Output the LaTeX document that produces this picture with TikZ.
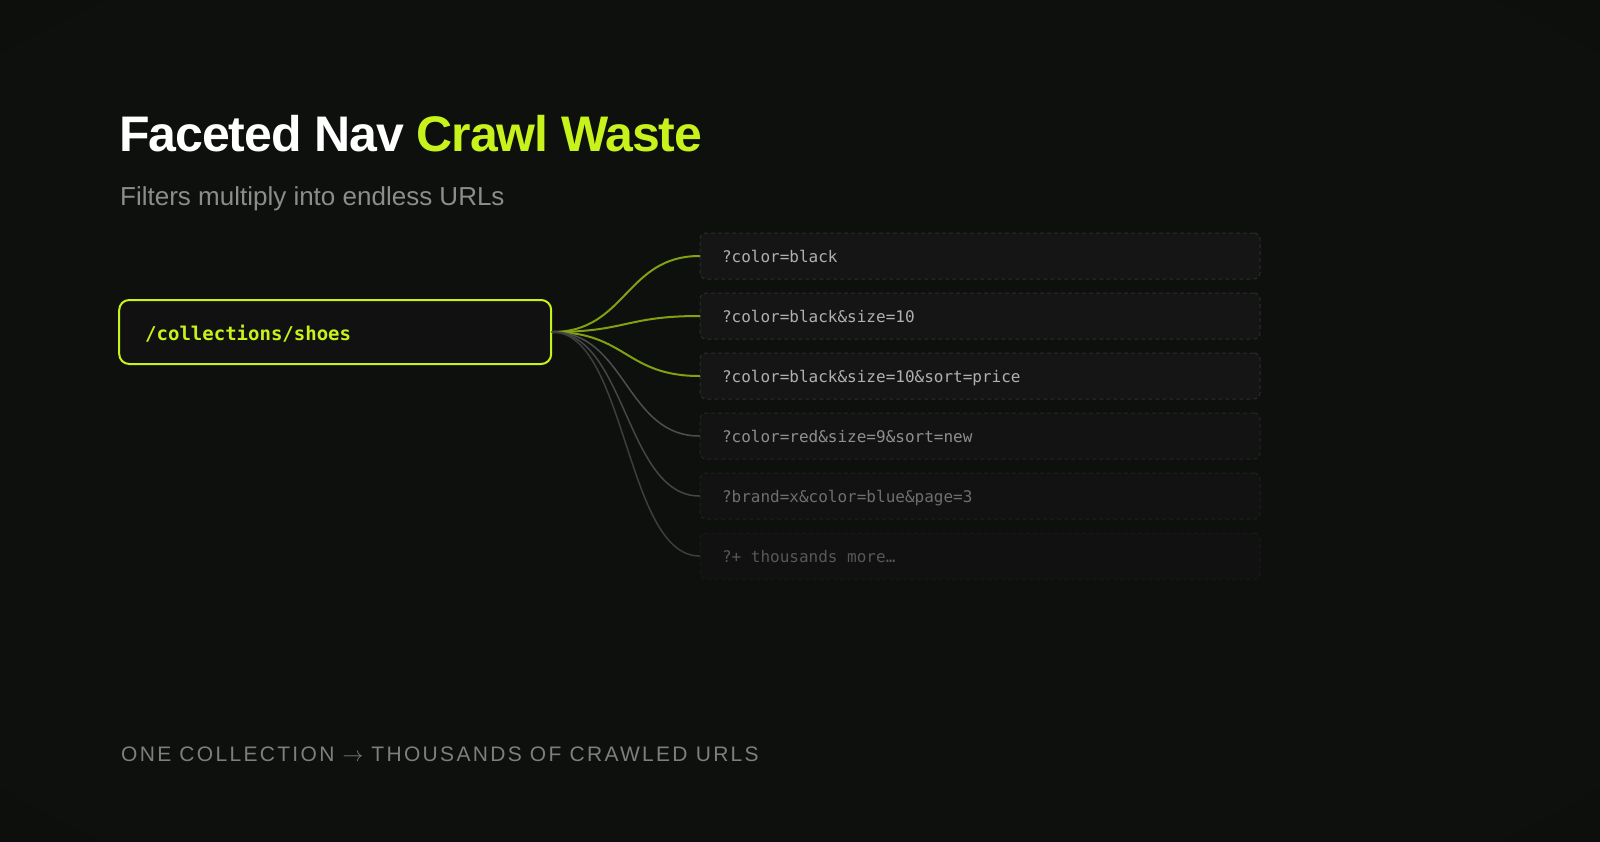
\documentclass[tikz,border=0pt]{standalone}
\usepackage{fontspec}
\setmainfont{Liberation Sans}
\newfontfamily\urlfont{DejaVu Sans Mono}[WordSpace={1,0,0}]
\newcommand{\monosp}{\hspace*{0.602em}}
\usetikzlibrary{positioning,calc}

\definecolor{bgouter}{HTML}{070707}
\definecolor{bginner}{HTML}{0D100C}
\definecolor{lime}{HTML}{C8F21C}
\definecolor{subgray}{HTML}{8C8C8C}
\definecolor{footgray}{HTML}{7E7E7E}
\definecolor{srcfill}{HTML}{111111}
% row colours, fading out downwards
\definecolor{txt0}{HTML}{B0B0B0}\definecolor{box0}{HTML}{151515}\definecolor{edge0}{HTML}{2C2C2C}\definecolor{link0}{HTML}{82A012}
\definecolor{txt1}{HTML}{B0B0B0}\definecolor{box1}{HTML}{151515}\definecolor{edge1}{HTML}{2C2C2C}\definecolor{link1}{HTML}{82A012}
\definecolor{txt2}{HTML}{B0B0B0}\definecolor{box2}{HTML}{151515}\definecolor{edge2}{HTML}{2C2C2C}\definecolor{link2}{HTML}{82A012}
\definecolor{txt3}{HTML}{8F8F8F}\definecolor{box3}{HTML}{131313}\definecolor{edge3}{HTML}{252525}\definecolor{link3}{HTML}{4E4E4E}
\definecolor{txt4}{HTML}{6E6E6E}\definecolor{box4}{HTML}{121212}\definecolor{edge4}{HTML}{202020}\definecolor{link4}{HTML}{464646}
\definecolor{txt5}{HTML}{575757}\definecolor{box5}{HTML}{111111}\definecolor{edge5}{HTML}{1B1B1B}\definecolor{link5}{HTML}{3E3E3E}

\pgfdeclareradialshading{vignette}{\pgfpoint{0bp}{0bp}}{color(0bp)=(bginner); color(32bp)=(bginner); color(52bp)=(bgouter); color(80bp)=(bgouter)}

\tikzset{
  heading/.style={anchor=base west, inner sep=0pt},
  srcbox/.style={draw=lime, line width=2pt, fill=srcfill, rounded corners=10pt,
    minimum width=432pt, minimum height=64pt, text width=380pt, inner xsep=26pt,
    align=left, text height=17pt, text depth=0pt, text=lime,
    font=\urlfont\bfseries\fontsize{19}{19}\selectfont},
  urlbox/.style={dashed, dash pattern=on 4pt off 3pt, line width=1pt, rounded corners=6pt,
    minimum width=560pt, minimum height=46pt, text width=516pt, inner xsep=22pt,
    align=left, text height=12pt, text depth=0pt,
    font=\urlfont\fontsize{16}{16}\selectfont},
  link/.style={line cap=round},
}

\begin{document}
\begin{tikzpicture}[x=1pt, y=-1pt]
  % canvas
  \useasboundingbox (0,0) rectangle (1600,841);
  \fill[bgouter] (0,0) rectangle (1600,841);
  \shade[shading=vignette] (0,0) rectangle (1600,841);

  % headings
  \node[heading, text=white, font=\bfseries\fontsize{50}{60}\selectfont\addfontfeature{LetterSpace=-2.2}] (title) at (119,151) {Faceted Nav \textcolor{lime}{Crawl Waste}};
  \node[heading, text=subgray, font=\fontsize{26}{30}\selectfont] (subtitle) at (120,205) {Filters multiply into endless URLs};

  % source page
  \node[srcbox] (src) at (335.2,332) {/collections/shoes};

  % filtered variants
  \foreach \i/\q/\lw in {0/{?color=black}/2, 1/{?color=black\&size=10}/2,
      2/{?color=black\&size=10\&sort=price}/2, 3/{?color=red\&size=9\&sort=new}/1.5,
      4/{?brand=x\&color=blue\&page=3}/1.5, 5/{?+\monosp thousands\monosp more…}/1.5}{
    \node[urlbox, draw=edge\i, fill=box\i, text=txt\i] (u\i) at (980,{256+60*\i}) {\q};
    \draw[link, draw=link\i, line width=\lw pt] (src.east) .. controls +(74,0) and +(-74,0) .. (u\i.west);
  }

  % footer
  \node[heading, text=footgray, font=\fontsize{21}{25}\selectfont\addfontfeature{LetterSpace=11}] (footer) at (121,761) {ONE COLLECTION $\rightarrow$ THOUSANDS OF CRAWLED URLS};
\end{tikzpicture}
\end{document}
